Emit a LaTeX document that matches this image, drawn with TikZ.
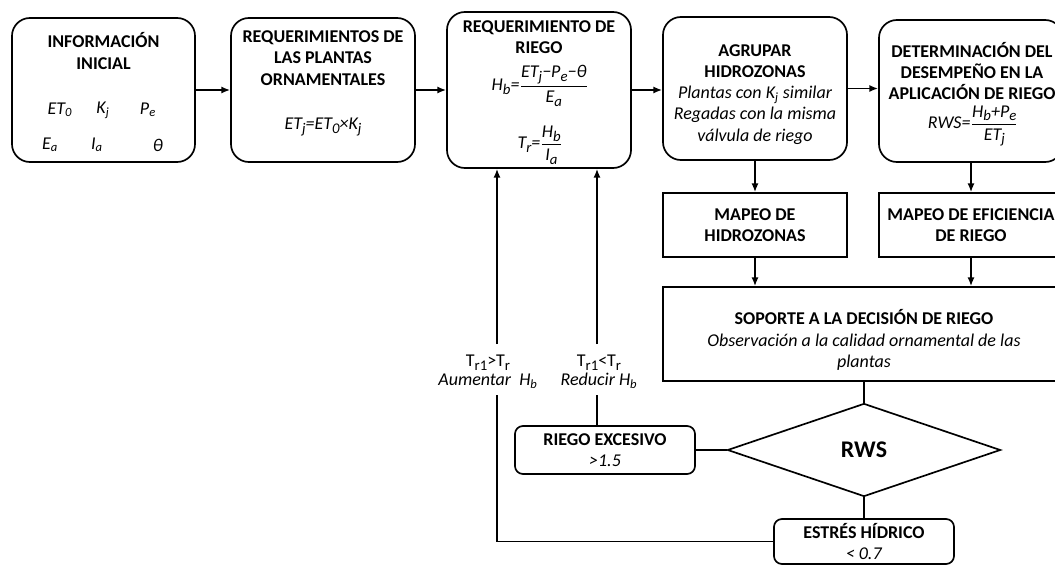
\documentclass[tikz,border=0pt]{standalone}
\usepackage{fontspec}
\setmainfont{Carlito}
\usepackage{amsmath}
\usetikzlibrary{arrows.meta,positioning,shapes.geometric}
\newcommand{\sbi}[1]{\raisebox{-0.45ex}{\fontsize{10.5}{10.5}\selectfont #1}}
\tikzset{
  caja/.style={draw, line width=1.2pt, rounded corners=0.45cm, inner sep=0pt},
  cajita/.style={draw, line width=1.2pt, rounded corners=0.2cm, inner sep=0pt, align=center,
    font=\fontsize{12.8}{15.2}\selectfont},
  rect/.style={draw, line width=1.2pt, inner sep=0pt, align=center,
    font=\bfseries\fontsize{12.8}{15.2}\selectfont},
  titulo/.style={align=center, inner sep=0pt, font=\bfseries\fontsize{12.8}{15.2}\selectfont},
  formula/.style={align=center, inner sep=0pt, font=\itshape\fontsize{12.8}{15}\selectfont},
  etiqueta/.style={align=center, inner sep=0pt, font=\fontsize{12.8}{13.8}\selectfont},
  decision/.style={diamond, draw, line width=1.2pt, inner sep=0pt,
    font=\bfseries\fontsize{17}{19}\selectfont},
  flecha/.style={line width=1.2pt, -{Latex[length=2.2mm,width=1.8mm]}},
  linea/.style={line width=1.2pt}
}
\begin{document}
\begin{tikzpicture}[x=0.025cm,y=-0.025cm]
  \useasboundingbox (0,0) rectangle (1055,565);
  % fila superior
  \node[caja, minimum width=4.575cm, minimum height=3.6cm] (info) at (103.5,90) {};
  \node[caja, minimum width=4.6cm, minimum height=3.6cm] (reqpl) at (323,90) {};
  \node[caja, minimum width=4.6cm, minimum height=3.9cm] (reqri) at (539,90) {};
  \node[caja, minimum width=4.6cm, minimum height=3.575cm] (agrup) at (755,88.5) {};
  \node[caja, minimum width=4.6cm, minimum height=3.55cm] (desem) at (971,91) {};
  % textos de la fila superior
  \node[titulo] (infot) at (103.5,51) {INFORMACIÓN\\INICIAL};
  \foreach \x/\y/\v [count=\i] in {60/110/ET\textsubscript{0}, 103/110/K\textsubscript{j},
      148/110/P\textsubscript{e}, 50/145/E\textsubscript{a}, 97/145/I\textsubscript{a}, 158/145/θ}
    \node[formula] (var\i) at (\x,\y) {\v};
  \node[titulo] (reqplt) at (323,58) {REQUERIMIENTOS DE\\LAS PLANTAS\\ORNAMENTALES};
  \node[formula] (etj) at (323,127) {ET\sbi{j}=ET\sbi{0}×K\sbi{j}};
  \node[titulo] (reqrit) at (539,37) {REQUERIMIENTO DE\\RIEGO};
  \node[formula] (hb) at (540,86)
    {H\sbi{b}=$\dfrac{\text{ET\sbi{j}−P\sbi{e}−θ}}{\text{E\sbi{a}}}$};
  \node[formula] (tr) at (540,145)
    {T\sbi{r}=$\dfrac{\text{H\sbi{b}}}{\text{I\sbi{a}}}$};
  \node[formula] (agrupt) at (755,94.5) {\textbf{\upshape AGRUPAR}\\\textbf{\upshape HIDROZONAS}\\
    Plantas con K\textsubscript{j} similar\\Regadas con la misma\\válvula de riego};
  \node[titulo] (desemt) at (972,71) {DETERMINACIÓN DEL\\DESEMPEÑO EN LA\\APLICACIÓN DE RIEGO};
  \node[formula] (rwsf) at (973,126)
    {RWS=$\dfrac{\text{H\sbi{b}+P\sbi{e}}}{\text{ET\sbi{j}}}$};
  % parte derecha
  \node[rect, minimum width=4.6cm, minimum height=1.6cm] (mapeoh) at (755,225) {MAPEO DE\\HIDROZONAS};
  \node[rect, minimum width=4.6cm, minimum height=1.6cm] (mapeoe) at (971,225) {MAPEO DE EFICIENCIA\\DE RIEGO};
  \node[rect, minimum width=10.05cm, minimum height=2.35cm] (soporte) at (864,334) {};
  \node[titulo] (soportet) at (864,340) {SOPORTE A LA DECISIÓN DE RIEGO\\
     \mdseries\itshape Observación a la calidad ornamental de las\\\mdseries\itshape plantas};
  \node[decision, minimum width=6.825cm, minimum height=2.325cm] (rws) at (864,450) {RWS};
  \node[cajita, minimum width=4.5cm, minimum height=1.2cm] (excesivo) at (605,450)
    {\textbf{RIEGO EXCESIVO}\\\textit{>1.5}};
  \node[cajita, minimum width=4.5cm, minimum height=1.125cm] (estres) at (864,541.5)
    {\textbf{ESTRÉS HÍDRICO}\\\textit{< 0.7}};
  % etiquetas de retroalimentacion
  \node[etiqueta] (aumentar) at (488,372) {T\sbi{r1}>T\sbi{r}\\\textit{Aumentar\ \ H\textsubscript{b}}};
  \node[etiqueta] (reducir) at (599,372) {T\sbi{r1}<T\sbi{r}\\\textit{Reducir H\textsubscript{b}}};
  \coordinate (ua) at (497,344);
  \coordinate (la) at (497,395);
  \coordinate (ur) at (597,344);
  \coordinate (lr) at (597,395);
  % conectores
  \draw[flecha] (info) -- (reqpl);
  \draw[flecha] (reqpl) -- (reqri);
  \draw[flecha] (reqri.east) -- (reqri.east -| agrup.west);
  \draw[flecha] (agrup.east) -- (agrup.east -| desem.west);
  \draw[flecha] (agrup) -- (mapeoh);
  \draw[flecha] (desem) -- (mapeoe);
  \draw[flecha] (mapeoh.south) -- (mapeoh.south |- soporte.north);
  \draw[flecha] (mapeoe.south) -- (mapeoe.south |- soporte.north);
  \draw[linea] (soporte) -- (rws);
  \draw[linea] (rws) -- (excesivo);
  \draw[linea] (rws) -- (estres);
  \draw[linea] (estres.west) -| (la);
  \draw[linea] (excesivo.north -| lr) -- (lr);
  \draw[flecha] (ua) -- (ua |- reqri.south);
  \draw[flecha] (ur) -- (ur |- reqri.south);
\end{tikzpicture}
\end{document}
